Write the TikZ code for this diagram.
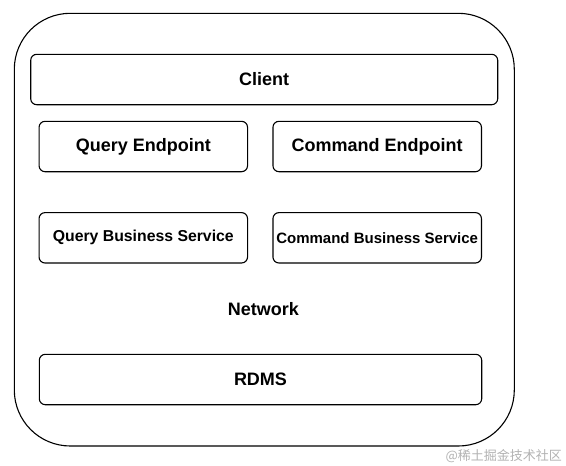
\documentclass[tikz,border=0pt]{standalone}
\usepackage{fontspec}
\setmainfont{Liberation Sans}
\newfontfamily\cjkfont{Noto Sans CJK SC}
\usepackage{xcolor}
\usepackage{tikz}
\usetikzlibrary{positioning}

\begin{document}
\begin{tikzpicture}[
    x=1pt, y=-1pt,
    frame/.style={rectangle, draw, line width=1.1pt, rounded corners=56pt, minimum width=500pt, minimum height=432.7pt},
    layer/.style={rectangle, draw, line width=1.1pt, rounded corners=6pt, inner sep=0pt, minimum height=50.4pt, font=\bfseries\fontsize{18}{20}\selectfont},
    service/.style={layer, minimum width=208.5pt},
    label/.style={font=\bfseries\fontsize{18}{20}\selectfont},
    watermark/.style={text=black!30, font=\cjkfont\fontsize{13}{14}\selectfont, anchor=east, inner sep=0pt}
]
\useasboundingbox (0,0) rectangle (566,466);

% Outer system frame
\node[frame] (system) at (264.3,229.65) {};

% Client
\node[layer, minimum width=467pt] (client) at (264.2,79.5) {Client};

% Endpoints
\node[service] (qend) at (143.3,146.5) {Query Endpoint};
\node[service] (cend) at (377.2,146.5) {Command Endpoint};

% Business services
\node[service, font=\bfseries\fontsize{15.8}{18}\selectfont] (qsvc) at (143.3,237.8) {Query Business Service};
\node[service, font=\bfseries\fontsize{15}{18}\selectfont] (csvc) at (377.2,237.8) {Command Business Service};

% Network
\node[label] (net) at (263.3,309) {Network};

% Database
\node[layer, minimum width=442.4pt] (rdms) at (260.5,379.5) {RDMS};

% Watermark
\node[watermark] (wm) at (562,456) {@稀土掘金技术社区};

\end{tikzpicture}
\end{document}
